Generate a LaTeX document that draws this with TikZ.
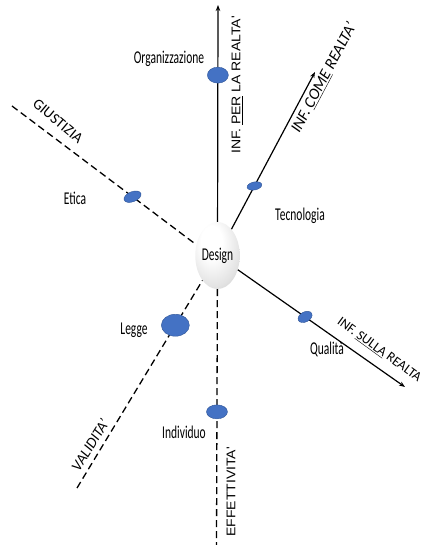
\documentclass[tikz,border=0pt]{standalone}
\usepackage{fontspec}
\setmainfont{Carlito}
\newfontfamily\arialf{Liberation Sans}
\usetikzlibrary{shapes.geometric,arrows.meta,calc}
\definecolor{dotblue}{HTML}{4472C4}
\definecolor{dotedge}{HTML}{2F5597}
\pgfdeclareradialshading{eggshade}{\pgfpoint{-8bp}{12bp}}{color(0bp)=(white); color(12bp)=(white); color(30bp)=(gray!22); color(44bp)=(gray!48); color(52bp)=(gray!62); color(75bp)=(gray!70)}
\newcommand{\cnd}[1]{\scalebox{0.64}[1]{#1}}
\begin{document}
\begin{tikzpicture}[x=1pt,y=-1pt,
  arr/.style={line width=1.2pt,-{Stealth[length=6pt,width=4.5pt]}},
  dsh/.style={line width=1.3pt,dash pattern=on 7pt off 4pt},
  dot/.style={ellipse,fill=dotblue,draw=dotedge,line width=0.4pt,inner sep=0pt},
  lbl/.style={inner sep=0pt,font=\fontsize{18}{20}\selectfont},
  axv/.style={inner sep=0pt,font=\arialf\fontsize{14}{16}\selectfont},
  axd/.style={inner sep=0pt,font=\fontsize{15}{17}\selectfont}]
\useasboundingbox (0,0) rectangle (422,545);
% centre
\node[ellipse,minimum width=43pt,minimum height=67pt,inner sep=0pt,shading=eggshade,lbl] (design) at (217.5,255.5) {\cnd{Design}};
% ends
\coordinate (topTip) at (218,5);
\coordinate (ctip) at (315,72);
\coordinate (stip) at (405,387);
\coordinate (gEnd) at (12,106);
\coordinate (vEnd) at (77,488);
\coordinate (eEnd) at (216.5,545);
% connectors
\draw[arr] (design) -- (topTip);
\draw[arr] (design) -- (ctip);
\draw[arr] (design) -- (stip);
\draw[dsh] (gEnd) -- (design.153);
\draw[dsh] (vEnd) -- (design);
\draw[dsh] (design) -- (eEnd);
% dots
\node[dot,minimum width=21pt,minimum height=16pt] (org) at ($(design)!0.72!(topTip)$) {};
\node[dot,minimum width=15pt,minimum height=8pt,rotate=12] (tec) at ($(design)!0.379!(ctip)$) {};
\node[dot,minimum width=15pt,minimum height=10pt,rotate=28] (qua) at ($(design)!0.467!(stip)$) {};
\node[dot,minimum width=18pt,minimum height=10pt,rotate=22] (eti) at ($(gEnd)!0.654!(design.153)$) {};
\node[dot,minimum width=28pt,minimum height=22pt] (leg) at ($(vEnd)!0.70!(design)$) {};
\node[dot,minimum width=21pt,minimum height=14pt] (ind) at ($(design)!0.54!(eEnd)$) {};
% labels
\node[lbl] (orgl) at (169,59) {\cnd{Organizzazione}};
\node[lbl] (tecl) at (300,216) {\cnd{Tecnologia}};
\node[lbl] (qual) at (327,349) {\cnd{Qualità}};
\node[lbl] (etil) at (75,198) {\cnd{Etica}};
\node[lbl] (legl) at (134,330) {\cnd{Legge}};
\node[lbl] (indl) at (184,432) {\cnd{Individuo}};
% axis labels
\node[axv,rotate=90] (per) at (237,85) {\scalebox{1}[0.9]{INF. \underline{PER} LA REALTA'}};
\node[axv,rotate=90] (eff) at (231,492) {\scalebox{1}[0.9]{EFFETTIVITA'}};
\node[axd,rotate=62,font=\fontsize{16}{18}\selectfont\itshape] (come) at (324,78) {INF. \underline{COME} REALTA'};
\node[axd,rotate=-40] (giu) at (58,121) {GIUSTIZIA};
\node[axd,rotate=58,font=\fontsize{15}{17}\selectfont\itshape] (val) at (90,445) {VALIDITA'};
\node[axd,rotate=-36,font=\fontsize{13.5}{16}\selectfont] (sul) at (379,350) {INF. \underline{SULLA} REALTA};
\end{tikzpicture}
\end{document}
